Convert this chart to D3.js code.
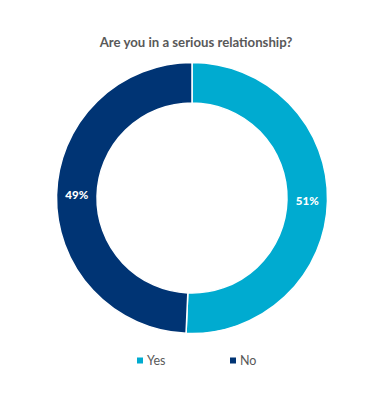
<!DOCTYPE html>
<html>
<head>
<meta charset="utf-8">
<script src="https://cdn.jsdelivr.net/npm/d3@7"></script>
<style>
  body { margin: 0; background: #fff; }
  svg { display: block; }
</style>
</head>
<body>
<div id="chart"></div>
<script>
const categories = ['Yes', 'No'];
const values = [50.7, 49.3];
const colors = ['#00abd0', '#003474'];
const title = 'Are you in a serious relationship?';

const width = 384, height = 400;
const cx = 192, cy = 198;
const outerR = 135.5, innerR = 95;

const svg = d3.select('#chart').append('svg')
    .attr('width', width).attr('height', height);

// title
svg.append('text')
    .attr('x', 196).attr('y', 47)
    .attr('text-anchor', 'middle')
    .attr('font-family', 'Lato, "Open Sans", sans-serif')
    .attr('font-weight', 'bold')
    .attr('font-size', 13.2)
    .attr('fill', '#595959')
    .text(title);

const pie = d3.pie().sort(null).value(d => d);
const arc = d3.arc().innerRadius(innerR).outerRadius(outerR);
const labelArc = d3.arc().innerRadius((innerR + outerR) / 2).outerRadius((innerR + outerR) / 2);

const g = svg.append('g').attr('transform', `translate(${cx},${cy})`);

const slices = pie(values);

g.selectAll('path')
    .data(slices)
    .enter().append('path')
    .attr('d', arc)
    .attr('fill', (d, i) => colors[i])
    .attr('stroke', '#fff')
    .attr('stroke-width', 1.5);

// percentage labels
g.selectAll('text.lbl')
    .data(slices)
    .enter().append('text')
    .attr('class', 'lbl')
    .attr('transform', d => `translate(${labelArc.centroid(d)})`)
    .attr('dy', '0.35em')
    .attr('text-anchor', 'middle')
    .attr('font-family', 'Lato, "Open Sans", sans-serif')
    .attr('font-weight', 900)
    .attr('font-size', 11.5)
    .attr('fill', '#fff')
    .text(d => Math.round(d.data) + '%');

// legend
const legend = svg.append('g');
const legX = d3.scalePoint().domain(categories).range([137, 230]);
const item = legend.selectAll('g')
    .data(categories)
    .enter().append('g')
    .attr('transform', d => `translate(${legX(d)},361)`);
item.append('rect')
    .attr('x', 0).attr('y', -3.5)
    .attr('width', 6).attr('height', 6)
    .attr('fill', (d, i) => colors[i]);
item.append('text')
    .attr('x', 10).attr('dy', '0.35em')
    .attr('font-family', 'Lato, "Open Sans", sans-serif')
    .attr('font-size', 12.5)
    .attr('fill', '#595959')
    .text(d => d);
</script>
</body>
</html>
